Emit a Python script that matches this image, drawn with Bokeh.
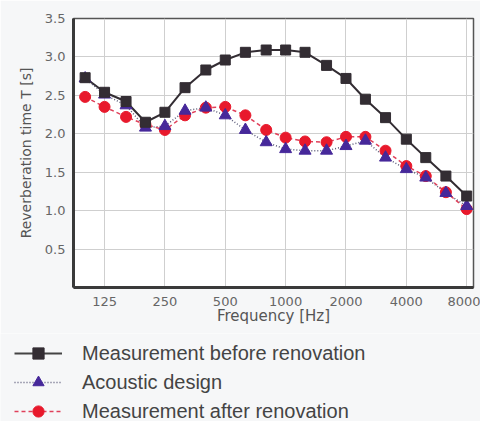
from bokeh.plotting import figure
from bokeh.models import (ColumnDataSource, FixedTicker, Range1d, PrintfTickFormatter,
                          Legend, LegendItem)
from bokeh.layouts import column
from bokeh.embed import file_html
from bokeh.resources import INLINE

freq = [100, 125, 160, 200, 250, 315, 400, 500, 630, 800, 1000, 1250, 1600,
        2000, 2500, 3150, 4000, 5000, 6300, 8000]
before = [2.73, 2.54, 2.42, 2.15, 2.28, 2.60, 2.83, 2.96, 3.06, 3.09, 3.09, 3.06,
          2.89, 2.72, 2.45, 2.21, 1.93, 1.69, 1.45, 1.19]
design = [2.72, 2.51, 2.37, 2.08, 2.10, 2.30, 2.34, 2.24, 2.05, 1.89, 1.80, 1.78,
          1.78, 1.84, 1.91, 1.69, 1.54, 1.43, 1.23, 1.06]
after = [2.48, 2.35, 2.22, 2.12, 2.05, 2.24, 2.34, 2.35, 2.24, 2.05, 1.95, 1.90,
         1.89, 1.96, 1.96, 1.78, 1.58, 1.45, 1.24, 1.02]
x_ticks = [125, 250, 500, 1000, 2000, 4000, 8000]
y_ticks = [0.5, 1.0, 1.5, 2.0, 2.5, 3.0, 3.5]
labels = ["Measurement before renovation", "Acoustic design",
          "Measurement after renovation"]

BG = "#f6f7f8"
src = ColumnDataSource(dict(f=freq, before=before, design=design, after=after))

p = figure(width=480, height=333, x_axis_type="log",
           x_range=Range1d(87.5, 8650), y_range=Range1d(0, 3.5),
           output_backend="svg", toolbar_location=None,
           min_border_left=73, min_border_right=7, min_border_top=18,
           min_border_bottom=46, background_fill_color="white",
           border_fill_color=BG)
p.outline_line_color = "#555555"
p.outline_line_width = 1.5

p.xaxis.ticker = FixedTicker(ticks=x_ticks, minor_ticks=[])
p.xaxis.major_label_overrides = {t: str(t) for t in x_ticks}
p.yaxis.ticker = FixedTicker(ticks=y_ticks, minor_ticks=[])
p.yaxis.formatter = PrintfTickFormatter(format="%.1f")
for ax in (p.xaxis, p.yaxis):
    ax.axis_line_color = "#3a3a3a"
    ax.axis_line_width = 3
    ax.major_tick_line_color = None
    ax.minor_tick_line_color = None
    ax.major_tick_out = 0
    ax.major_tick_in = 0
    ax.minor_tick_out = 0
    ax.major_label_text_font = "DejaVu Sans"
    ax.major_label_text_font_size = "13px"
    ax.major_label_text_color = "#666666"
    ax.axis_label_text_font = "DejaVu Sans"
    ax.axis_label_text_font_style = "normal"
    ax.axis_label_text_color = "#555555"
p.xaxis.axis_label_text_font_size = "15px"
p.yaxis.axis_label_text_font_size = "14px"
p.xaxis.axis_label = "Frequency [Hz]"
p.yaxis.axis_label = "Reverberation time T [s]"
p.xaxis.major_label_standoff = 9
p.yaxis.major_label_standoff = 8
p.xaxis.axis_label_standoff = -2
p.yaxis.axis_label_standoff = 8
p.grid.grid_line_color = "#cfcfcf"
p.grid.grid_line_width = 1

C_B, C_D, C_DL, C_A, C_AL = "#332d33", "#46289a", "#5a5a78", "#e8192c", "#e0405a"

p.line("f", "before", source=src, line_color=C_B, line_width=2)
p.line("f", "design", source=src, line_color=C_DL, line_width=1.5, line_dash="1 2")
p.line("f", "after", source=src, line_color=C_AL, line_width=1.5, line_dash="4 3")
p.scatter("f", "after", source=src, marker="circle", size=11, fill_color=C_A,
          line_color=C_A)
p.scatter("f", "design", source=src, marker="triangle", size=12, fill_color=C_D,
          line_color=C_D)
p.scatter("f", "before", source=src, marker="square", size=10, fill_color=C_B,
          line_color=C_B)

# legend panel (its renderers sit outside the visible range; only the legend shows)
lg = figure(width=480, height=88, x_range=Range1d(0, 1), y_range=Range1d(0, 1),
            output_backend="svg", toolbar_location=None,
            x_axis_location=None, y_axis_location=None, frame_align=False,
            min_border=0, background_fill_color=BG, border_fill_color=BG)
lg.grid.visible = False
lg.outline_line_color = None
dsrc = ColumnDataSource(dict(f=freq[:1], before=before[:1], design=design[:1],
                             after=after[:1]))
r1 = [lg.line("f", "before", source=dsrc, line_color="#444444", line_width=2),
      lg.scatter("f", "before", source=dsrc, marker="square", size=10,
                 fill_color=C_B, line_color=C_B)]
r2 = [lg.line("f", "design", source=dsrc, line_color=C_DL, line_width=1.5,
              line_dash="1 2"),
      lg.scatter("f", "design", source=dsrc, marker="triangle", size=12,
                 fill_color=C_D, line_color=C_D)]
r3 = [lg.line("f", "after", source=dsrc, line_color=C_AL, line_width=1.5,
              line_dash="4 3"),
      lg.scatter("f", "after", source=dsrc, marker="circle", size=11,
                 fill_color=C_A, line_color=C_A)]
legend = Legend(items=[LegendItem(label=labels[0], renderers=r1),
                       LegendItem(label=labels[1], renderers=r2),
                       LegendItem(label=labels[2], renderers=r3)],
                location=(14, -4), margin=0, padding=0, spacing=1,
                glyph_width=48, glyph_height=28, label_height=28,
                label_standoff=20, label_text_font="Liberation Sans",
                label_text_font_size="20px", label_text_color="#444444",
                border_line_color=None, background_fill_alpha=0)
lg.add_layout(legend)

layout = column(p, lg, spacing=0)
open("out.html", "w").write(file_html(layout, INLINE))
